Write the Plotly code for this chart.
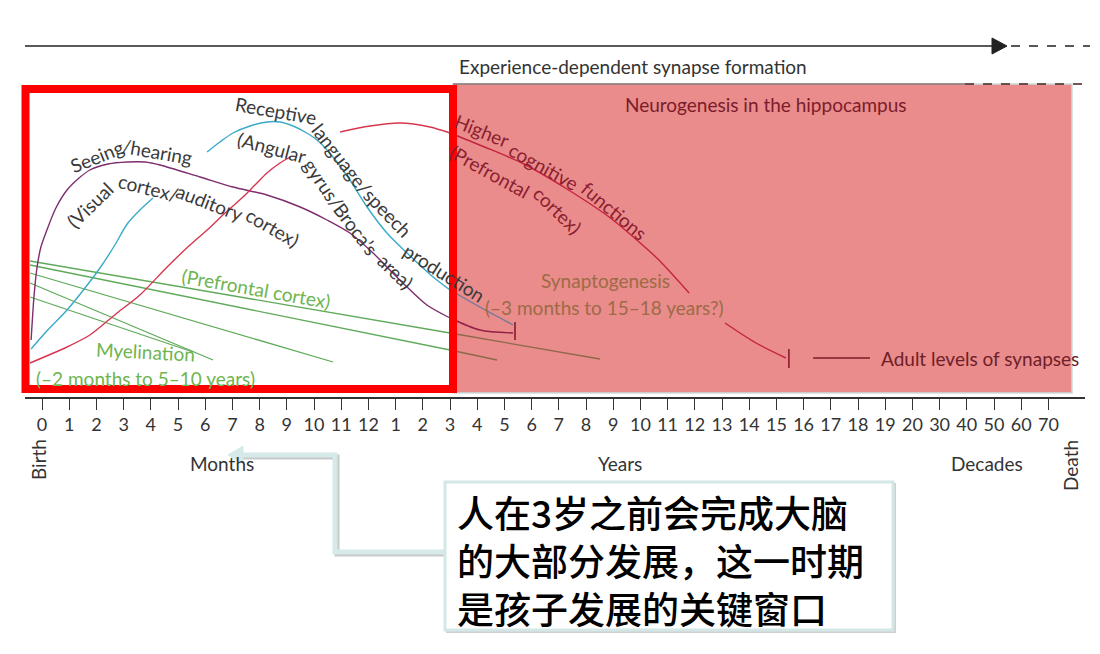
import plotly.graph_objects as go

# ---------------- data ----------------
# x positions are tick indices on the age axis (0 = birth ... 37 = 70 years)
tick_labels = ["0", "1", "2", "3", "4", "5", "6", "7", "8", "9", "10", "11", "12",
               "1", "2", "3", "4", "5", "6", "7", "8", "9", "10", "11", "12", "13",
               "14", "15", "16", "17", "18", "19", "20", "30", "40", "50", "60", "70"]
tick_pos = list(range(len(tick_labels)))

# Seeing/hearing (visual / auditory cortex)
seeing_x = [-0.40, -0.29, -0.18, -0.04, 0.18, 0.51, 0.92, 1.32, 1.76, 2.43, 3.13, 3.79,
            4.34, 5.81, 7.02, 8.27, 9.49, 10.48, 11.32, 12.17, 12.68, 13.42, 14.15,
            15.00, 16.10, 17.32]
seeing_y = [57, 102, 130, 150, 167, 189, 207, 218, 227, 233, 235, 235,
            232, 220, 210, 202, 190, 177, 164, 144, 130, 110, 92,
            79, 67, 64]

# Receptive language / speech production
language_x = [-0.40, 0.11, 0.92, 1.58, 2.13, 2.68, 3.13, 3.60, 4.08, None, 6.07, 6.54, 7.02,
              7.65, 8.27, 8.75, 9.23, 9.67, 10.11, 10.70, 11.32, 11.95, 12.68, 13.42, 14.38,
              15.00, 16.10, 17.32]
language_y = [48, 64, 87, 109, 129, 152, 173, 187, 199, None, 245, 255, 264,
              271, 275, 275, 271, 265, 257, 240, 217, 190, 164, 144, 120,
              107, 90, 72]

# Higher cognitive functions (prefrontal cortex)
cognitive_x = [-0.44, 0.92, 1.76, 2.76, 3.60, 4.60, 5.44, 6.07, 6.73, 7.39, 7.83, 8.27, 8.75,
               9.12, None, 10.96, 12.06, 13.16, 14.26, 15.00, 16.18, 17.72, 19.30, 20.85,
               21.91, 22.68, 23.79, None, 25.11, 26.25, 27.35]
cognitive_y = [34, 50, 62, 84, 102, 130, 152, 167, 184, 200, 212, 224, 234,
               240, None, 265, 271, 274, 270, 264, 251, 233, 208, 180,
               156, 137, 104, None, 74, 54, 39]

# Myelination lines
myelin1_x, myelin1_y = [-0.44, 15.00, 20.51], [136, 64, 38]
myelin2_x, myelin2_y = [-0.44, 15.00, 16.73], [132, 47, 37]
myelin3_x, myelin3_y = [-0.44, 10.70], [124, 35]
myelin4_x, myelin4_y = [-0.44, 6.29], [114, 37]
myelin5_x, myelin5_y = [-0.44, 5.55], [100, 45]

# end bars of synaptogenesis curves
endbar_x = [17.39, 27.46]
endbar_lo = [57, 29]
endbar_hi = [75, 48]
# "Adult levels of synapses" dash
adult_x = [28.35, 30.44]
adult_y = [39, 39]

# ---------------- geometry helpers ----------------
OFF = 8                        # page body margin of the browser
W, H = 1100 - OFF, 654 - OFF
ML, MR, MT, MB = 25 - OFF, 15, 0, 257
PW, PH = W - ML - MR, H - MT - MB
X0, DX = 42.0 - OFF, 27.2      # figure pixel of tick 0 and tick spacing
BOUND = 15.0                   # start of shaded region (under the red frame)


def PX(px):                    # screen pixel -> paper
    return (px - OFF - ML) / PW


def PY(py):
    return (PH - (py - OFF)) / PH


FONT = "Lato"
DARK = "#333333"

fig = go.Figure()


def split(xs, ys):
    wx, wy, kx, ky = [], [], [], []
    for x, y in zip(xs, ys):
        if x is None:
            wx.append(None); wy.append(None); kx.append(None); ky.append(None)
            continue
        if x <= BOUND + 1e-9:
            wx.append(x); wy.append(y)
        if x >= BOUND - 1e-9:
            kx.append(x); ky.append(y)
    return wx, wy, kx, ky


def curve(xs, ys, c_white, c_pink, spline=True, width=1.4):
    wx, wy, kx, ky = split(xs, ys)
    shape = "spline" if spline else "linear"
    fig.add_trace(go.Scatter(x=wx, y=wy, mode="lines", hoverinfo="skip",
                             line=dict(color=c_white, width=width, shape=shape, smoothing=0.8)))
    if len([v for v in kx if v is not None]) > 1:
        fig.add_trace(go.Scatter(x=kx, y=ky, mode="lines", hoverinfo="skip",
                                 line=dict(color=c_pink, width=width, shape=shape, smoothing=0.8)))


GREEN, GREEN_P = "#5FAA5A", "#8C6A48"
for mx, my in [(myelin1_x, myelin1_y), (myelin2_x, myelin2_y), (myelin3_x, myelin3_y),
               (myelin4_x, myelin4_y), (myelin5_x, myelin5_y)]:
    curve(mx, my, GREEN, GREEN_P, spline=False, width=1.3)

curve(seeing_x, seeing_y, "#7E2D6F", "#951F45")
curve(language_x, language_y, "#3AAAC9", "#6C7A98")
curve(cognitive_x, cognitive_y, "#D8364F", "#C4243E")

# end bars
bx, by = [], []
for x, lo, hi in zip(endbar_x, endbar_lo, endbar_hi):
    bx += [x, x, None]
    by += [lo, hi, None]
fig.add_trace(go.Scatter(x=bx, y=by, mode="lines", hoverinfo="skip",
                         line=dict(color="#8A1A2E", width=1.6)))
fig.add_trace(go.Scatter(x=adult_x, y=adult_y, mode="lines", hoverinfo="skip",
                         line=dict(color="#7A1C2A", width=1.4)))

shapes = []
shapes.append(dict(type="rect", xref="paper", yref="paper", x0=PX(453), x1=PX(1072),
                   y0=PY(393), y1=PY(84), fillcolor="#EA8B8C",
                   line=dict(color="#CBDDDD", width=1.5), layer="below"))
shapes.append(dict(type="rect", xref="paper", yref="paper", x0=PX(25.5), x1=PX(453),
                   y0=PY(389), y1=PY(89), line=dict(color="#FF0000", width=8), layer="above"))
shapes.append(dict(type="line", xref="paper", yref="paper", x0=PX(25), x1=PX(994),
                   y0=PY(46), y1=PY(46), line=dict(color="#222222", width=1.6)))
shapes.append(dict(type="path", xref="paper", yref="paper",
                   path=f"M {PX(992)},{PY(38)} L {PX(1007)},{PY(46)} L {PX(992)},{PY(54)} Z",
                   fillcolor="#222222", line=dict(color="#222222", width=1)))
shapes.append(dict(type="line", xref="paper", yref="paper", x0=PX(1011), x1=PX(1090),
                   y0=PY(46), y1=PY(46), line=dict(color="#222222", width=1.6, dash="dash")))
shapes.append(dict(type="line", xref="paper", yref="paper", x0=PX(453), x1=PX(965),
                   y0=PY(84), y1=PY(84), line=dict(color="#6A3A3A", width=1.2), layer="above"))
shapes.append(dict(type="line", xref="paper", yref="paper", x0=PX(965), x1=PX(1090),
                   y0=PY(84), y1=PY(84), line=dict(color="#4A2020", width=1.5, dash="dash"),
                   layer="above"))
conn = f"M {PX(445)},{PY(552)} L {PX(335)},{PY(552)} L {PX(335)},{PY(455)} L {PX(240)},{PY(455)}"
conn_s = f"M {PX(445)},{PY(554)} L {PX(337)},{PY(554)} L {PX(337)},{PY(457)} L {PX(240)},{PY(457)}"
shapes.append(dict(type="path", xref="paper", yref="paper", path=conn_s,
                   line=dict(color="#C9C9C9", width=5)))
shapes.append(dict(type="path", xref="paper", yref="paper", path=conn,
                   line=dict(color="#D6EAEA", width=5)))
shapes.append(dict(type="path", xref="paper", yref="paper",
                   path=f"M {PX(243)},{PY(446)} L {PX(228)},{PY(455)} L {PX(243)},{PY(464)} Z",
                   fillcolor="#D6EAEA", line=dict(color="#D6EAEA", width=1)))
shapes.append(dict(type="rect", xref="paper", yref="paper", x0=PX(447), x1=PX(895),
                   y0=PY(632), y1=PY(484), line=dict(color="#D0D0D0", width=2)))
shapes.append(dict(type="rect", xref="paper", yref="paper", x0=PX(445), x1=PX(893),
                   y0=PY(630), y1=PY(482), fillcolor="white",
                   line=dict(color="#D3E7E7", width=3)))


def txt(s, px, py, size=19, color=DARK, angle=0, xanchor="center", family=FONT, weight=None):
    f = dict(family=family, size=size, color=color)
    if weight:
        f["weight"] = weight
    return dict(text=s, x=PX(px), y=PY(py), xref="paper", yref="paper", showarrow=False,
                textangle=angle, xanchor=xanchor, yanchor="middle", font=f)


PURP_T = "#3A3A3A"
RED_T = "#8A1E2E"
GREEN_T = "#6DB54F"
BROWN_T = "#9C6B45"
ann = [
    txt("Experience-dependent synapse formation", 457, 66, xanchor="left"),
    txt("Neurogenesis in the hippocampus", 766, 104, color="#7A1C2A"),
    txt("Synaptogenesis", 605, 280, color=BROWN_T),
    txt("(–3 months to 15–18 years?)", 604, 307, color=BROWN_T),
    txt("Adult levels of synapses", 879, 358, color="#6E1E28", xanchor="left"),
    txt("(Prefrontal cortex)", 256, 288, color=GREEN_T, angle=10),
    txt("Myelination", 145, 351, color=GREEN_T, angle=3),
    txt("(–2 months to 5–10 years)", 145, 378, color=GREEN_T),
    txt("Birth", 38, 460, angle=-90),
    txt("Months", 222, 463),
    txt("Years", 620, 463),
    txt("Decades", 987, 463),
    txt("Death", 1070, 466, angle=-90),
    # curved labels, one word chunk at a time
    txt("Seeing", 96, 156, color=PURP_T, angle=-22),
    txt("/hearing", 157, 151, color=PURP_T, angle=10),
    txt("(Visual", 89, 205, color=PURP_T, angle=-44),
    txt("cortex/", 148, 187, color=PURP_T, angle=14),
    txt("auditory", 210, 202, color=PURP_T, angle=21),
    txt("cortex)", 273, 227, color=PURP_T, angle=30),
    txt("Receptive", 276, 110, color=PURP_T, angle=10),
    txt("language/", 342, 158, color=PURP_T, angle=52),
    txt("speech", 388, 212, color=PURP_T, angle=46),
    txt("production", 444, 272, color=PURP_T, angle=32),
    txt("(Angular", 272, 147, color=PURP_T, angle=15),
    txt("gyrus/", 324, 183, color=PURP_T, angle=56),
    txt("Broca’s", 356, 228, color=PURP_T, angle=53),
    txt("area)", 396, 271, color=PURP_T, angle=44),
    txt("Higher", 482, 130, color=RED_T, angle=22),
    txt("cognitive", 544, 166, color=RED_T, angle=29),
    txt("functions", 614, 211, color=RED_T, angle=40),
    txt("(Prefrontal", 490, 171, color=RED_T, angle=29),
    txt("cortex)", 558, 210, color=RED_T, angle=44),
]
cn = txt("人在3岁之前会完成大脑<br>的大部分发展，这一时期<br>是孩子发展的关键窗口",
         455, 560, size=37, color="#000000", xanchor="left",
         family="Noto Sans CJK SC", weight=500)
cn["align"] = "left"
ann.append(cn)

fig.update_layout(
    width=W, height=H, margin=dict(l=ML, r=MR, t=MT, b=MB),
    paper_bgcolor="white", plot_bgcolor="rgba(0,0,0,0)", showlegend=False,
    shapes=shapes, annotations=ann,
    xaxis=dict(range=[(ML - X0) / DX, (ML + PW - X0) / DX], tickmode="array",
               tickvals=tick_pos, ticktext=tick_labels, ticks="outside", ticklen=11,
               tickwidth=1.4, tickcolor=DARK, showline=True, linecolor=DARK, linewidth=1.5,
               showgrid=False, zeroline=False, fixedrange=True,
               tickfont=dict(family=FONT, size=18, color=DARK)),
    yaxis=dict(range=[0, PH], visible=False, fixedrange=True),
)

fig.write_html("out.html")
